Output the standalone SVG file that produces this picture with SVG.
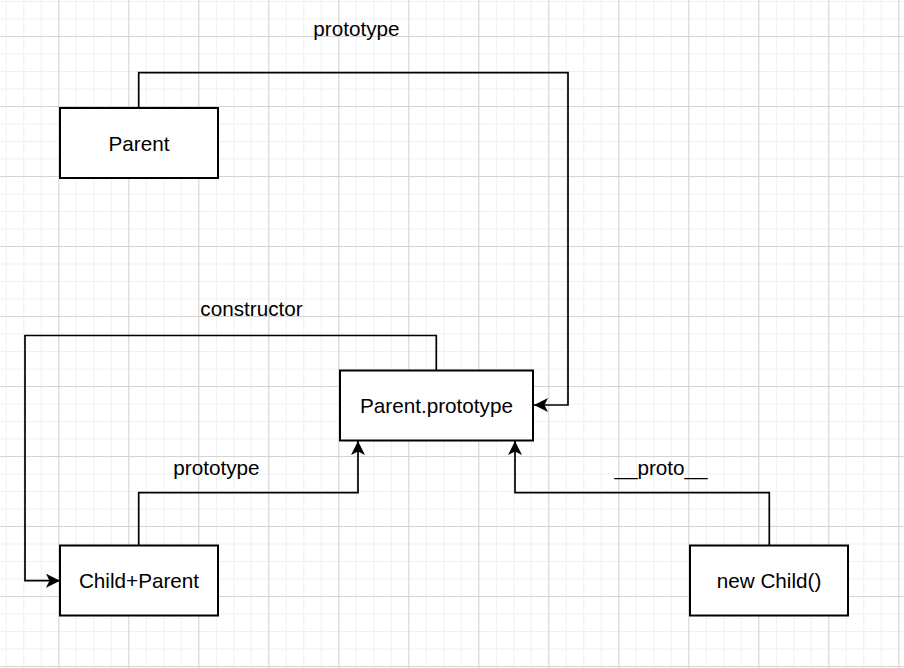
<svg xmlns="http://www.w3.org/2000/svg" width="904" height="668" viewBox="0 0 904 668">
  <defs>
    <pattern id="minor" patternUnits="userSpaceOnUse" x="58.3" y="36" width="17.5" height="17.5">
      <path d="M0,0.5 H17.5 M0.5,0 V17.5" fill="none" stroke="#f0f0f0" stroke-width="1"/>
    </pattern>
    <pattern id="major" patternUnits="userSpaceOnUse" x="58.3" y="36" width="70" height="70">
      <path d="M0,0.5 H70 M0.5,0 V70" fill="none" stroke="#d4d4d4" stroke-width="1"/>
    </pattern>
    <marker id="arrow" markerUnits="userSpaceOnUse" viewBox="0 0 14 14" refX="14" refY="7" markerWidth="14" markerHeight="14" orient="auto">
      <path d="M0,0 L14,7 L0,14 L3.5,7 Z" fill="#000"/>
    </marker>
  </defs>
  <style>
    .node rect { fill: #fff; stroke: #000; stroke-width: 2; }
    .node text, .label { font-family: "Liberation Sans", Arial, sans-serif; font-size: 20.7px; fill: #000; text-anchor: middle; }
    .edge { fill: none; stroke: #000; stroke-width: 1.7; marker-end: url(#arrow); }
  </style>
  <rect width="904" height="668" fill="#fff"/>
  <rect width="904" height="668" fill="url(#minor)"/>
  <rect width="904" height="668" fill="url(#major)"/>

  <g id="connectors">
    <path class="edge" d="M138.7,108 V72.7 H568 V405 H534"/>
    <path class="edge" d="M436.3,370 V335.5 H25 V580.7 H60"/>
    <path class="edge" d="M138.7,545 V492.7 H358 V441"/>
    <path class="edge" d="M769.3,545 V492.7 H515 V441"/>
    <text class="label" x="356.5" y="36">prototype</text>
    <text class="label" x="251.5" y="315.7">constructor</text>
    <text class="label" x="216.5" y="474.7">prototype</text>
    <text class="label" x="661" y="475">__proto__</text>
  </g>

  <g id="parent" class="node">
    <rect x="60" y="108" width="158" height="70"/>
    <text x="139" y="150.5">Parent</text>
  </g>
  <g id="parent-prototype" class="node">
    <rect x="340" y="370.5" width="193" height="70"/>
    <text x="436.5" y="413">Parent.prototype</text>
  </g>
  <g id="child-parent" class="node">
    <rect x="60" y="545.5" width="158" height="70"/>
    <text x="139" y="588">Child+Parent</text>
  </g>
  <g id="new-child" class="node">
    <rect x="690" y="545.5" width="158" height="70"/>
    <text x="769" y="588">new Child()</text>
  </g>
</svg>
